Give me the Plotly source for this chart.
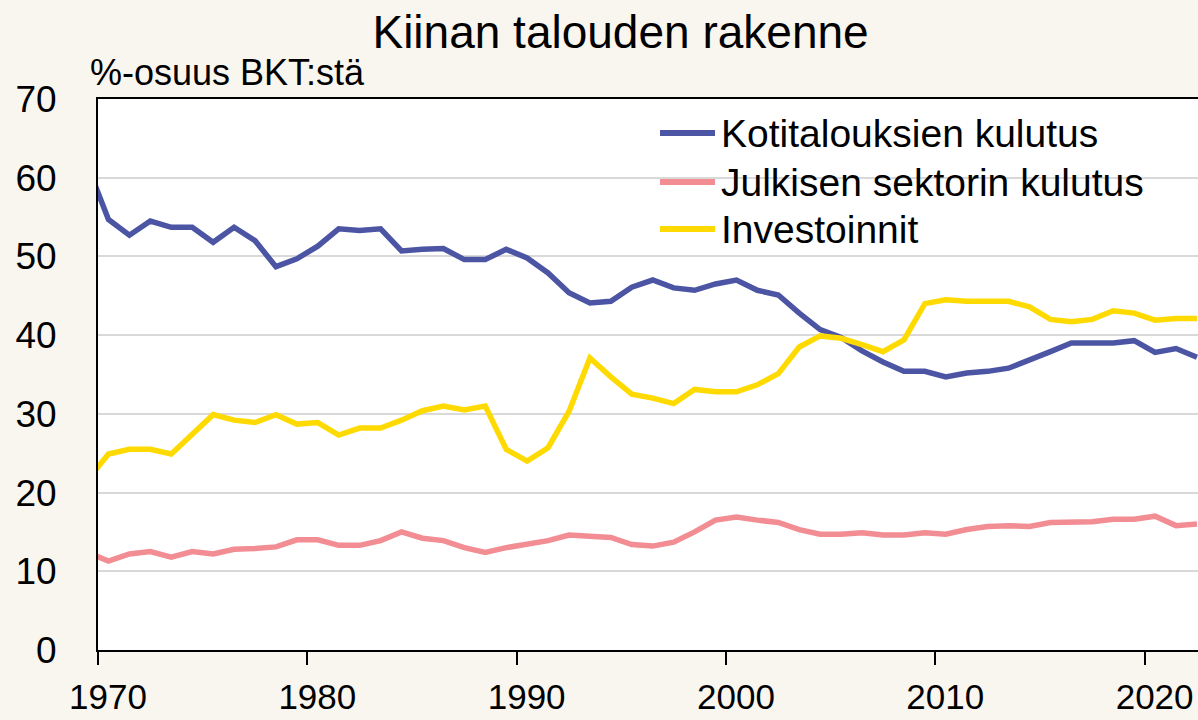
import plotly.graph_objects as go

# ---- data (share of GDP, %) ----
years = list(range(1969, 2023))

household = [61.5, 54.7, 52.7, 54.5, 53.7, 53.7, 51.8, 53.7, 52.0, 48.7,
             49.7, 51.3, 53.5, 53.3, 53.5, 50.7, 50.9, 51.0, 49.6, 49.6,
             50.9, 49.8, 47.9, 45.4, 44.1, 44.3, 46.1, 47.0, 46.0, 45.7,
             46.5, 47.0, 45.7, 45.1, 42.8, 40.7, 39.7, 38.0, 36.6, 35.4,
             35.4, 34.7, 35.2, 35.4, 35.8, 36.8, 37.9, 39.0, 39.0, 39.0,
             39.3, 37.8, 38.3, 37.2]

public = [12.4, 11.3, 12.2, 12.5, 11.8, 12.5, 12.2, 12.8, 12.9, 13.1,
          14.0, 14.0, 13.3, 13.3, 13.9, 15.0, 14.2, 13.9, 13.0, 12.4,
          13.0, 13.4, 13.9, 14.6, 14.5, 14.3, 13.4, 13.2, 13.7, 15.0,
          16.5, 16.9, 16.5, 16.2, 15.3, 14.7, 14.7, 14.9, 14.6, 14.6,
          14.9, 14.7, 15.3, 15.7, 15.8, 15.7, 16.2, 16.3, 16.3, 16.6,
          16.6, 17.0, 15.8, 16.0]

investment = [21.6, 24.9, 25.5, 25.5, 24.9, 27.4, 29.9, 29.2, 28.9, 29.9,
              28.7, 28.9, 27.3, 28.2, 28.2, 29.2, 30.4, 31.0, 30.5, 31.0,
              25.5, 24.0, 25.7, 30.3, 37.1, 34.7, 32.5, 32.0, 31.3, 33.1,
              32.8, 32.8, 33.7, 35.1, 38.5, 39.9, 39.6, 38.8, 37.9, 39.4,
              44.0, 44.5, 44.3, 44.3, 44.3, 43.6, 42.0, 41.7, 42.0, 43.1,
              42.8, 41.9, 42.1, 42.1]

series_names = ["Kotitalouksien kulutus", "Julkisen sektorin kulutus", "Investoinnit"]
series_colors = ["#4B55A3", "#F28D93", "#FFDA00"]

tick_years = [1970, 1980, 1990, 2000, 2010, 2020]
tick_labels = [str(y) for y in tick_years]

# values are annual: plot each year at mid-year (category centre)
x_mid = [y + 0.5 for y in years]

FONT = "Liberation Sans, Arial, sans-serif"

# ---- layout geometry (pixels) ----
W, H = 1198, 720
ML, MR, MT, MB = 98, 0, 99, 70
PW, PH = W - ML - MR, H - MT - MB


def px_x(px):
    return (px - ML) / PW


def px_y(py):
    return (H - MB - py) / PH


fig = go.Figure()
for name, vals, col in zip(series_names, [household, public, investment], series_colors):
    fig.add_trace(go.Scatter(
        x=x_mid, y=vals, mode="lines", name=name,
        line=dict(color=col, width=5.5),
        hoverinfo="skip", showlegend=False,
    ))

# legend drawn as shapes + text (long line samples like the original)
shapes = [dict(type="rect", xref="paper", yref="paper", layer="between",
               x0=px_x(612), x1=px_x(1140), y0=px_y(108), y1=px_y(252),
               fillcolor="#FFFFFF", line=dict(width=0))]
annotations = [dict(
    text="%-osuus BKT:stä", xref="paper", yref="paper",
    x=px_x(88), xanchor="left", y=px_y(73), yanchor="middle",
    showarrow=False, font=dict(size=36, family=FONT, color="#000000"),
)]
legend_rows = [133, 182, 229]
for name, col, ry in zip(series_names, series_colors, legend_rows):
    shapes.append(dict(type="line", xref="paper", yref="paper",
                       x0=px_x(660), x1=px_x(715), y0=px_y(ry), y1=px_y(ry),
                       line=dict(color=col, width=6)))
    annotations.append(dict(text=name, xref="paper", yref="paper",
                            x=px_x(719), xanchor="left", y=px_y(ry), yanchor="middle",
                            showarrow=False,
                            font=dict(size=39, family=FONT, color="#000000")))

fig.update_layout(
    width=W, height=H,
    paper_bgcolor="#F9F5EF",
    plot_bgcolor="#FFFFFF",
    margin=dict(l=ML, r=MR, t=MT, b=MB, autoexpand=False),
    font=dict(family=FONT, color="#000000", size=37),
    title=dict(
        text="Kiinan talouden rakenne",
        x=0.518, xanchor="center", xref="container",
        y=0.956, yanchor="middle", yref="container",
        font=dict(size=46, family=FONT, color="#000000"),
    ),
    showlegend=False,
    shapes=shapes,
    annotations=annotations,
)

fig.update_xaxes(
    range=[1970, 2022.55],
    tickvals=tick_years, ticktext=tick_labels,
    ticks="outside", ticklen=13, tickwidth=2, tickcolor="#000000",
    ticklabelshift=10, ticklabelstandoff=2,
    showline=True, linecolor="#000000", linewidth=2, mirror=True,
    showgrid=False, zeroline=False, automargin=False,
    tickfont=dict(size=35, family=FONT),
)
fig.update_yaxes(
    range=[0, 70], dtick=10, tick0=0,
    ticks="", ticklabelstandoff=32,
    showline=True, linecolor="#000000", linewidth=2,
    showgrid=True, gridcolor="#D9D9D9", gridwidth=2,
    zeroline=False, automargin=False,
    tickfont=dict(size=37, family=FONT),
)

fig.write_html(
    "out.html",
    config={"displayModeBar": False, "staticPlot": True},
    post_script="document.body.style.margin='0';document.body.style.overflow='hidden';",
)
